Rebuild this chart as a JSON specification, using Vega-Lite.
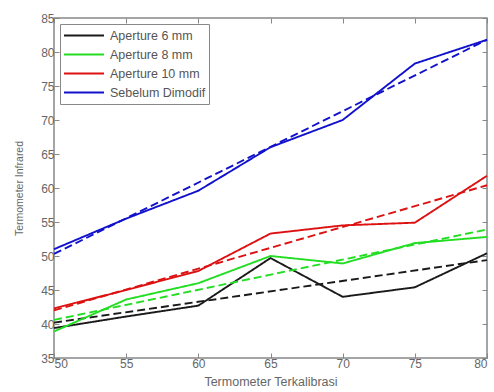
{
  "$schema": "https://vega.github.io/schema/vega-lite/v6.json",
  "width": 433,
  "height": 340,
  "autosize": {"type": "none"},
  "padding": {"left": 54, "top": 18, "right": 7, "bottom": 34},
  "background": "white",
  "config": {
    "font": "Liberation Sans",
    "view": {"stroke": "#888888", "strokeWidth": 1.5},
    "axis": {"grid": false, "domain": false, "tickColor": "#888888", "tickSize": -5, "labelColor": "#666666", "labelFontSize": 12, "titleColor": "#666666", "titleFontSize": 11, "titleFontWeight": "normal", "labelPadding": 5}
  },
  "data": {"values": [
    {"x": 50, "y": 39.4, "s": "Aperture 6 mm", "k": "data"},
    {"x": 55, "y": 41.1, "s": "Aperture 6 mm", "k": "data"},
    {"x": 60, "y": 42.7, "s": "Aperture 6 mm", "k": "data"},
    {"x": 65, "y": 49.7, "s": "Aperture 6 mm", "k": "data"},
    {"x": 70, "y": 44.0, "s": "Aperture 6 mm", "k": "data"},
    {"x": 75, "y": 45.4, "s": "Aperture 6 mm", "k": "data"},
    {"x": 80, "y": 50.4, "s": "Aperture 6 mm", "k": "data"},
    {"x": 50, "y": 40.2, "s": "Aperture 6 mm", "k": "fit"},
    {"x": 80, "y": 49.4, "s": "Aperture 6 mm", "k": "fit"},
    {"x": 50, "y": 38.9, "s": "Aperture 8 mm", "k": "data"},
    {"x": 55, "y": 43.6, "s": "Aperture 8 mm", "k": "data"},
    {"x": 60, "y": 46.0, "s": "Aperture 8 mm", "k": "data"},
    {"x": 65, "y": 50.0, "s": "Aperture 8 mm", "k": "data"},
    {"x": 70, "y": 48.9, "s": "Aperture 8 mm", "k": "data"},
    {"x": 75, "y": 51.9, "s": "Aperture 8 mm", "k": "data"},
    {"x": 80, "y": 52.8, "s": "Aperture 8 mm", "k": "data"},
    {"x": 50, "y": 40.6, "s": "Aperture 8 mm", "k": "fit"},
    {"x": 80, "y": 53.9, "s": "Aperture 8 mm", "k": "fit"},
    {"x": 50, "y": 42.3, "s": "Aperture 10 mm", "k": "data"},
    {"x": 55, "y": 45.0, "s": "Aperture 10 mm", "k": "data"},
    {"x": 60, "y": 47.8, "s": "Aperture 10 mm", "k": "data"},
    {"x": 65, "y": 53.3, "s": "Aperture 10 mm", "k": "data"},
    {"x": 70, "y": 54.5, "s": "Aperture 10 mm", "k": "data"},
    {"x": 75, "y": 54.9, "s": "Aperture 10 mm", "k": "data"},
    {"x": 80, "y": 61.8, "s": "Aperture 10 mm", "k": "data"},
    {"x": 50, "y": 42.0, "s": "Aperture 10 mm", "k": "fit"},
    {"x": 80, "y": 60.4, "s": "Aperture 10 mm", "k": "fit"},
    {"x": 50, "y": 51.0, "s": "Sebelum Dimodif", "k": "data"},
    {"x": 55, "y": 55.5, "s": "Sebelum Dimodif", "k": "data"},
    {"x": 60, "y": 59.6, "s": "Sebelum Dimodif", "k": "data"},
    {"x": 65, "y": 66.0, "s": "Sebelum Dimodif", "k": "data"},
    {"x": 70, "y": 70.0, "s": "Sebelum Dimodif", "k": "data"},
    {"x": 75, "y": 78.3, "s": "Sebelum Dimodif", "k": "data"},
    {"x": 80, "y": 81.8, "s": "Sebelum Dimodif", "k": "data"},
    {"x": 50, "y": 50.3, "s": "Sebelum Dimodif", "k": "fit"},
    {"x": 80, "y": 81.8, "s": "Sebelum Dimodif", "k": "fit"}
  ]},
  "layer": [
    {
      "mark": {"type": "line", "strokeWidth": 1.9},
      "encoding": {
        "x": {"field": "x", "type": "quantitative", "scale": {"domain": [50, 80], "nice": false, "zero": false}, "axis": {"title": "Termometer Terkalibrasi", "titleFontSize": 12.5, "values": [50, 55, 60, 65, 70, 75, 80], "titlePadding": 6, "orient": "bottom"}},
        "y": {"field": "y", "type": "quantitative", "scale": {"domain": [35, 85], "nice": false, "zero": false}, "axis": {"title": "Termometer Infrared", "titleFontSize": 10.5, "values": [35, 40, 45, 50, 55, 60, 65, 70, 75, 80, 85], "titlePadding": 16, "orient": "left"}},
        "color": {"field": "s", "type": "nominal",
          "scale": {"domain": ["Aperture 6 mm", "Aperture 8 mm", "Aperture 10 mm", "Sebelum Dimodif"], "range": ["#1a1a1a", "#22dd22", "#dd1111", "#1111cc"]},
          "legend": {"title": null, "orient": "top-left", "offset": 6, "symbolType": "stroke", "symbolSize": 1600, "symbolStrokeWidth": 2, "clipHeight": 17, "labelFontSize": 12.5, "labelColor": "#555555", "strokeColor": "#888888", "padding": 3, "rowPadding": 2, "labelOffset": 5, "fillColor": "white"}},
        "strokeDash": {"field": "k", "type": "nominal", "scale": {"domain": ["data", "fit"], "range": [[1, 0], [8, 4]]}, "legend": null},
        "detail": {"field": "k"}
      }
    },
    {
      "mark": {"type": "line", "opacity": 0},
      "encoding": {
        "x": {"field": "x", "type": "quantitative", "axis": {"orient": "top", "labels": false, "title": null, "values": [50, 55, 60, 65, 70, 75, 80]}},
        "y": {"field": "y", "type": "quantitative", "axis": {"orient": "right", "labels": false, "title": null, "values": [35, 40, 45, 50, 55, 60, 65, 70, 75, 80, 85]}}
      }
    }
  ],
  "resolve": {"axis": {"x": "independent", "y": "independent"}}
}
